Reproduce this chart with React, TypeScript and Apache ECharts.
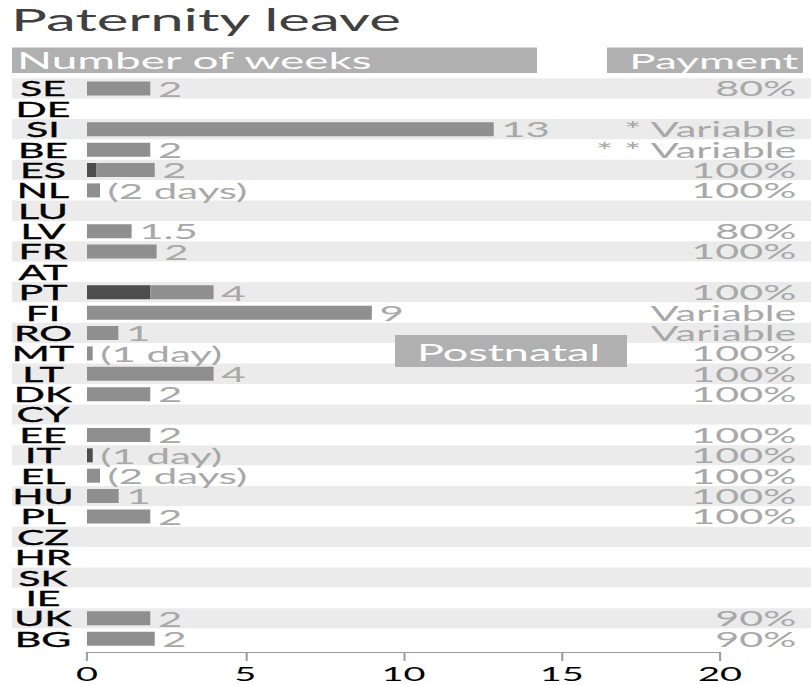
import React, { useEffect, useRef } from "react";
import * as echarts from "echarts";

const countries = ["SE","DE","SI","BE","ES","NL","LU","LV","FR","AT","PT","FI","RO","MT","LT","DK","CY","EE","IT","EL","HU","PL","CZ","HR","SK","IE","UK","BG"];
// dark segment (birth-related leave)
const darkWeeks = [null,null,null,null,0.3,null,null,null,null,null,2,null,null,null,null,null,null,null,0.18,null,null,null,null,null,null,null,null,null];
// light segment (postnatal)
const postnatalWeeks = [2,null,12.85,2,1.84,0.41,null,1.41,2.2,null,2,9,0.99,0.18,4,2,null,2,0,0.41,1,2,null,null,null,null,2,2.14];
const valueLabels = ["2","","13","2","2","(2 days)","","1.5","2","","4","9","1","(1 day)","4","2","","2","(1 day)","(2 days)","1","2","","","","","2","2"];
const payment = ["80%","","* Variable","* * Variable","100%","100%","","80%","100%","","100%","Variable","Variable","100%","100%","100%","","100%","100%","100%","100%","100%","","","","","90%","90%"];
const xTicks = [0, 5, 10, 15, 20];

const S = 811 / 406;
const FONT = "Lato";

export default function App() {
  const ref = useRef<HTMLDivElement>(null);
  useEffect(() => {
    if (!ref.current) return;
    const chart = echarts.init(ref.current, null, { renderer: "svg" });
    const top = 78.3;
    const height = 28 * 20.38;
    const gray = "#b0b0b0";
    chart.setOption({
      animation: false,
      textStyle: { fontFamily: FONT },
      grid: [
        { left: 6, right: 0, top, height },
        { left: 87 / S, width: 633 / S, top, height },
      ],
      xAxis: [
        { gridIndex: 0, type: "value", min: 0, max: 1, show: false },
        {
          gridIndex: 1, type: "value", min: xTicks[0], max: xTicks[xTicks.length - 1], interval: 5,
          offset: 3,
          axisLine: { show: true, lineStyle: { color: "#9a9a9a", width: 1 } },
          axisTick: { show: true, length: 9, lineStyle: { color: "#9a9a9a" } },
          splitLine: { show: false },
          axisLabel: { color: "#000", fontSize: 19, lineHeight: 17, fontFamily: FONT, margin: 12.5 },
        },
      ],
      yAxis: [
        {
          gridIndex: 0, type: "category", inverse: true, data: countries, position: "left",
          axisLine: { show: false }, axisTick: { show: false },
          splitArea: { show: true, areaStyle: { color: ["#ebebeb", "#ffffff"] } },
          axisLabel: {
            inside: true, align: "center", margin: 15.5, interval: 0, color: "#000", fontSize: 20.5, lineHeight: 17,
            fontFamily: FONT, textBorderColor: "#000", textBorderWidth: 0.35,
          },
        },
        {
          gridIndex: 1, type: "category", inverse: true, data: countries, show: false,
        },
        {
          gridIndex: 0, type: "category", inverse: true, data: countries, position: "right",
          axisLine: { show: false }, axisTick: { show: false }, splitArea: { show: false }, splitLine: { show: false },
          axisLabel: {
            inside: true, margin: 7.3, interval: 0, color: "#a8a8a8", fontSize: 20.7, lineHeight: 17, fontFamily: FONT,
            formatter: (_v: string, i: number) => payment[i],
          },
        },
      ],
      series: [
        {
          type: "bar", name: "Birth", xAxisIndex: 1, yAxisIndex: 1, stack: "w", barWidth: 14,
          data: darkWeeks, itemStyle: { color: "#4d4d4d" },
        },
        {
          type: "bar", name: "Postnatal", xAxisIndex: 1, yAxisIndex: 1, stack: "w", barWidth: 14,
          data: postnatalWeeks, itemStyle: { color: "#8f8f8f" },
          label: {
            show: true, position: "right", distance: 3.8, color: "#a8a8a8", fontSize: 21, lineHeight: 17, fontFamily: FONT,
            formatter: (p: any) => valueLabels[p.dataIndex],
          },
        },
      ],
      graphic: [
        { type: "text", z: 100, left: 5.5, top: 4.5, style: { text: "Paternity leave", fill: "#404040", fontSize: 30, fontFamily: FONT } },
        { type: "rect", z: 100, shape: { x: 6, y: 47.5, width: 525 / S, height: 25.5 }, style: { fill: gray } },
        { type: "text", z: 101, x: 8.5, y: 60.5, style: { text: "Number of weeks", fill: "#fff", fontSize: 23, fontFamily: FONT, verticalAlign: "middle" } },
        { type: "rect", z: 100, shape: { x: 607 / S, y: 47.5, width: 196 / S, height: 25.5 }, style: { fill: gray } },
        { type: "text", z: 101, x: 315, y: 60.5, style: { text: "Payment", fill: "#fff", fontSize: 22, fontFamily: FONT, verticalAlign: "middle" } },
        { type: "rect", z: 100, shape: { x: 395 / S, y: 335, width: 232 / S, height: 32 }, style: { fill: gray } },
        { type: "text", z: 101, x: 417 / S, y: 352, style: { text: "Postnatal", fill: "#fff", fontSize: 22.5, fontFamily: FONT, verticalAlign: "middle" } },
      ],
    });
    return () => chart.dispose();
  }, []);
  return (
    <div
      ref={ref}
      style={{
        position: "absolute", left: 0, top: 0, width: 406, height: 685,
        transform: `scaleX(${S})`, transformOrigin: "0 0",
      }}
    />
  );
}
